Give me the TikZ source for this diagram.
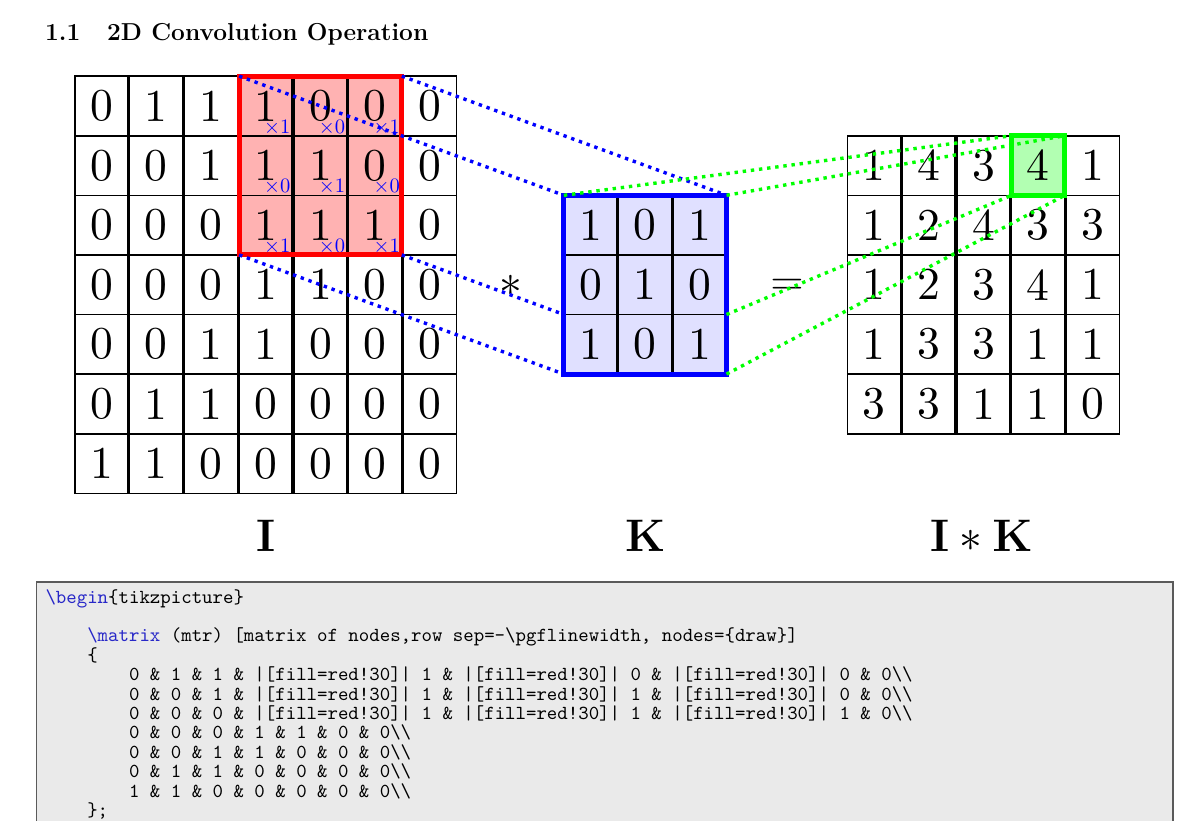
\RequirePackage{fix-cm}
\documentclass[tikz,border=0pt]{standalone}
\usetikzlibrary{calc}
\font\cellfnt="[lmroman10-regular]" at 45.6pt
\font\wtfnt="[lmroman10-regular]" at 20.5pt
\font\codefnt="[lmmono10-regular]" at 19.9pt
\definecolor{kw}{RGB}{40,40,200}
\definecolor{codebg}{RGB}{234,234,234}
\definecolor{codeframe}{RGB}{90,90,90}
\tikzset{
  cell/.style={draw=black, line width=1.6pt, minimum width=53.16pt, minimum height=59.6pt,
    inner sep=0pt, outer sep=0pt, font=\cellfnt},
  wt/.style={inner sep=0pt, outer sep=0pt, anchor=base east, text=blue, font=\wtfnt},
  win/.style={line width=5pt},
  conn/.style={line width=3.4pt, dash pattern=on 3.4pt off 4.8pt},
  lbl/.style={inner sep=0pt, anchor=base, font=\fontsize{45.6}{45.6}\selectfont},
  codeline/.style={inner sep=0pt, anchor=base west, font=\codefnt},
  head/.style={inner sep=0pt, anchor=base west, font=\bfseries\fontsize{24.5}{24.5}\selectfont},
}
\begin{document}
\begin{tikzpicture}[x=1pt,y=-1pt]
\useasboundingbox (0,0) rectangle (1192,820);
\clip (0,0) rectangle (1192,820);
\fill[white] (0,0) rectangle (1192,820);

% heading
\node[head] (secnum) at (45,40) {1.1};
\node[head] (sectitle) at (107,40) {2D Convolution Operation};

% input matrix I
\foreach \row [count=\r] in {{0,1,1,1,0,0,0},{0,0,1,1,1,0,0},{0,0,0,1,1,1,0},{0,0,0,1,1,0,0},{0,0,1,1,0,0,0},{0,1,1,0,0,0,0},{1,1,0,0,0,0,0}}{
  \foreach \v [count=\c] in \row {
    \pgfmathtruncatemacro\inwin{(\r<4)*(\c>3)*(\c<7)}
    \ifnum\inwin=1 \def\cellfill{red!30}\else\def\cellfill{white}\fi
    \node[cell, fill=\cellfill] (I-\r-\c) at ({265.7+(\c-4)*54.76},{284.7+(\r-4)*59.6}) {\v};
  }
}

% kernel K
\foreach \row [count=\r] in {{1,0,1},{0,1,0},{1,0,1}}{
  \foreach \v [count=\c] in \row {
    \node[cell, fill=blue!12] (K-\r-\c) at ({645.2+(\c-2)*54.76},{284.7+(\r-2)*59.6}) {\v};
  }
}

% result
\foreach \row [count=\r] in {{1,4,3,4,1},{1,2,4,3,3},{1,2,3,4,1},{1,3,3,1,1},{3,3,1,1,0}}{
  \foreach \v [count=\c] in \row {
    \pgfmathtruncatemacro\inwin{(\r==1)*(\c==4)}
    \ifnum\inwin=1 \def\cellfill{green!30}\else\def\cellfill{white}\fi
    \node[cell, fill=\cellfill] (R-\r-\c) at ({983.4+(\c-3)*54.76},{284.7+(\r-3)*59.6}) {\v};
  }
}

% weights
\foreach \r/\c/\w in {1/4/1,1/5/0,1/6/1,2/4/0,2/5/1,2/6/0,3/4/1,3/5/0,3/6/1}{
  \node[wt] (w-\r-\c) at ($(I-\r-\c.south east)+(-2,-2.4)$) {×\w};
}

% windows
\draw[win, red] (I-1-4.north west) rectangle (I-3-6.south east);
\draw[win, blue] (K-1-1.north west) rectangle (K-3-3.south east);
\draw[win, green] (R-1-4.north west) rectangle (R-1-4.south east);

% operators and labels
\node[lbl] (ast) at (510.5,296.4) {$*$};
\node[lbl] (eq) at (787,295.4) {$=$};
\node[lbl] (lI) at (265.7,551) {$\mathbf{I}$};
\node[lbl] (lK) at (645.2,551) {$\mathbf{K}$};
\node[lbl] (lIK) at (981.4,551) {$\mathbf{I}*\mathbf{K}$};

% connectors
\draw[conn, blue] (I-1-4.north west) -- (K-1-1.north west);
\draw[conn, blue] (I-1-6.north east) -- (K-1-3.north east);
\draw[conn, blue] (I-3-4.south west) -- (K-3-1.south west);
\draw[conn, blue] (I-3-6.south east) -- (K-3-1.north west);
\draw[conn, green] (K-1-1.north west) -- (R-1-4.north west);
\draw[conn, green] (K-1-3.north east) -- (R-1-4.north east);
\draw[conn, green] (K-3-3.north east) -- (R-1-4.south west);
\draw[conn, green] (K-3-3.south east) -- (R-1-4.south east);

% code listing box
\fill[codebg] (36.7,582) rectangle (1173,845);
\draw[codeframe, line width=1.3pt] (36.7,845) -- (36.7,582) -- (1173,582) -- (1173,845);
\node[codeline] (c1) at (45.3,603) {\textcolor{kw}{\textbackslash begin}\{tikzpicture\}};
\node[codeline] (c3) at (87.1,641.8) {\textcolor{kw}{\textbackslash matrix} (mtr) [matrix of nodes,row sep=-\textbackslash pgflinewidth, nodes=\{draw\}]};
\node[codeline] (c4) at (87.1,661.2) {\{};
\node[codeline] (c5) at (128.9,680.6) {0 \& 1 \& 1 \& |[fill=red!30]| 1 \& |[fill=red!30]| 0 \& |[fill=red!30]| 0 \& 0\textbackslash\textbackslash};
\node[codeline] (c6) at (128.9,700.0) {0 \& 0 \& 1 \& |[fill=red!30]| 1 \& |[fill=red!30]| 1 \& |[fill=red!30]| 0 \& 0\textbackslash\textbackslash};
\node[codeline] (c7) at (128.9,719.4) {0 \& 0 \& 0 \& |[fill=red!30]| 1 \& |[fill=red!30]| 1 \& |[fill=red!30]| 1 \& 0\textbackslash\textbackslash};
\node[codeline] (c8) at (128.9,738.8) {0 \& 0 \& 0 \& 1 \& 1 \& 0 \& 0\textbackslash\textbackslash};
\node[codeline] (c9) at (128.9,758.2) {0 \& 0 \& 1 \& 1 \& 0 \& 0 \& 0\textbackslash\textbackslash};
\node[codeline] (c10) at (128.9,777.6) {0 \& 1 \& 1 \& 0 \& 0 \& 0 \& 0\textbackslash\textbackslash};
\node[codeline] (c11) at (128.9,797.0) {1 \& 1 \& 0 \& 0 \& 0 \& 0 \& 0\textbackslash\textbackslash};
\node[codeline] (c12) at (87.1,816.4) {\};};
\end{tikzpicture}
\end{document}
